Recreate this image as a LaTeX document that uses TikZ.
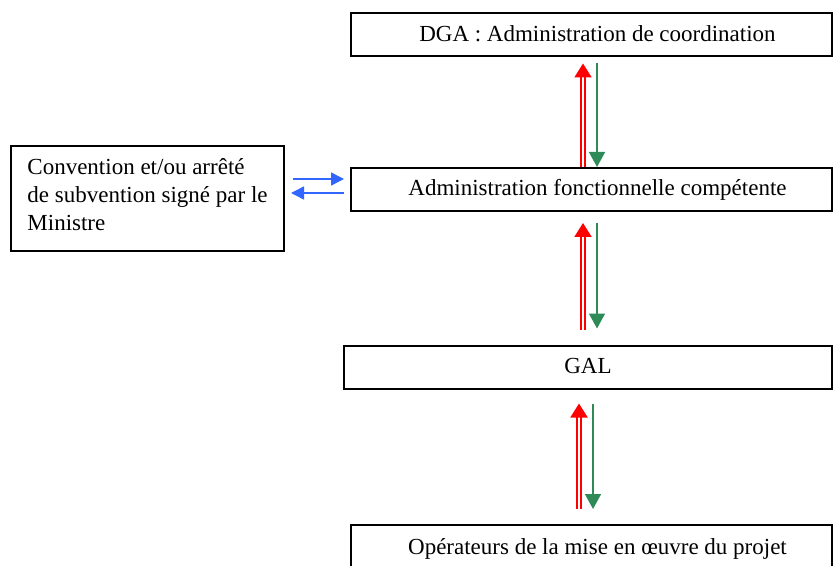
\documentclass[tikz,border=0pt]{standalone}
\usepackage{fontspec}
\setmainfont{Liberation Serif}
\usetikzlibrary{arrows.meta}

\definecolor{upred}{RGB}{255,0,0}
\definecolor{downgreen}{RGB}{46,139,87}
\definecolor{swapblue}{RGB}{51,102,255}

\begin{document}
\begin{tikzpicture}[x=0.5pt, y=-0.5pt,
    box/.style={draw, line width=1pt, minimum height=21.5pt, inner sep=0pt,
        font=\fontsize{11.5}{14}\selectfont},
    level/.style={box, text height=9pt, text depth=2.5pt},
    uparrow/.style={draw=upred, line width=1pt, double=white, double distance=0.7pt,
        -{Triangle[length=7pt, width=8.5pt, fill=upred]}},
    downarrow/.style={downgreen, line width=0.75pt,
        -{Triangle[length=7.5pt, width=8pt]}},
    swaparrow/.style={swapblue, line width=0.75pt,
        -{Triangle[length=6.5pt, width=6.5pt]}}]

    \clip (0,0) rectangle (833,566);

    \node[level, minimum width=240.5pt] (dga) at (591.5,35) {\hspace*{6pt}DGA : Administration de coordination};
    \node[level, minimum width=240.5pt] (afc) at (591.5,189.5) {\hspace*{6pt}Administration fonctionnelle compétente};
    \node[level, minimum width=244pt]   (gal) at (588,367) {GAL};
    \node[level, minimum width=240.5pt, minimum height=22.5pt] (ope) at (591.5,547.5) {\hspace*{6pt}Opérateurs de la mise en œuvre du projet};

    \node[box, minimum width=136.5pt, minimum height=52.5pt, align=left, text depth=4.5pt] (conv) at (147.5,198.5)
        {Convention et/ou arrêté\\de subvention signé par le\\Ministre};

    % up and down between the levels
    \draw[uparrow]   ([xshift=-4.25pt]afc.north) -- ([xshift=-4.25pt, yshift=-3pt]dga.south);
    \draw[downarrow] ([xshift=2.75pt, yshift=-3pt]dga.south) -- ([xshift=2.75pt]afc.north);

    \draw[uparrow]   ([xshift=-2.5pt, yshift=7.5pt]gal.north) -- ([xshift=-4.25pt, yshift=-5.5pt]afc.south);
    \draw[downarrow] ([xshift=2.75pt, yshift=-5.5pt]afc.south) -- ([xshift=4.5pt, yshift=8pt]gal.north);

    \draw[uparrow]   ([xshift=-6.25pt, yshift=7.5pt]ope.north) -- ([xshift=-4.5pt, yshift=-7pt]gal.south);
    \draw[downarrow] ([xshift=2.5pt, yshift=-7pt]gal.south) -- ([xshift=0.75pt, yshift=7.5pt]ope.north);

    % convention
    \draw[swaparrow] ([xshift=4pt, yshift=9.75pt]conv.east) -- ([xshift=-3pt, yshift=5.25pt]afc.west);
    \draw[swaparrow] ([xshift=-3pt, yshift=-1.75pt]afc.west) -- ([xshift=3pt, yshift=2.75pt]conv.east);

\end{tikzpicture}
\end{document}
